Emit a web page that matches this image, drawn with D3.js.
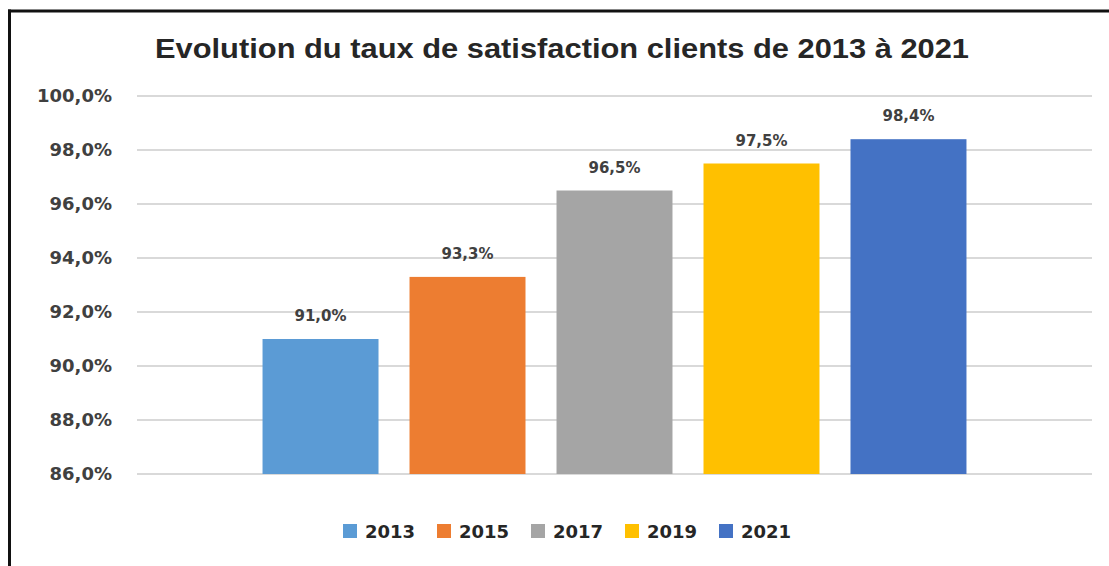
<!DOCTYPE html>
<html>
<head>
<meta charset="utf-8">
<script src="https://cdn.jsdelivr.net/npm/d3@7"></script>
<style>
  html, body { margin: 0; padding: 0; background: #fff; }
  svg { display: block; }
</style>
</head>
<body>
<div class="chart"><svg></svg></div>
<script>
"use strict";

// data
const years = ['2013', '2015', '2017', '2019', '2021'];
const rates = [91.0, 93.3, 96.5, 97.5, 98.4];
const colors = ['#5B9BD5', '#ED7D31', '#A5A5A5', '#FFC000', '#4472C4'];
const yTicks = [86, 88, 90, 92, 94, 96, 98, 100];
const title = 'Evolution du taux de satisfaction clients de 2013 à 2021';

const WIDTH = 1109;
const HEIGHT = 566;
const plot = {left: 137, right: 1092, top: 96, bottom: 474};

const fmt = v => d3.format('.1f')(v).replace('.', ',') + '%';

const svg = d3.select('.chart').select('svg')
    .attr('width', WIDTH)
    .attr('height', HEIGHT);

// frame (top + left edge of the screenshot)
svg.append('line')
    .attr('x1', 8).attr('y1', 11).attr('x2', WIDTH).attr('y2', 11)
    .attr('stroke', '#111').attr('stroke-width', 3);
svg.append('line')
    .attr('x1', 9.5).attr('y1', 9.5).attr('x2', 9.5).attr('y2', HEIGHT)
    .attr('stroke', '#111').attr('stroke-width', 3);

const x = d3.scaleBand()
    .domain(years)
    .range([plot.left, plot.right])
    .paddingInner(0.211)
    .paddingOuter(0.854);

const y = d3.scaleLinear()
    .domain([86, 100])
    .range([plot.bottom, plot.top]);

// gridlines
svg.append('g')
    .selectAll('line')
    .data(yTicks)
    .join('line')
    .attr('x1', plot.left)
    .attr('x2', plot.right)
    .attr('y1', d => y(d))
    .attr('y2', d => y(d))
    .attr('stroke', '#d9d9d9')
    .attr('stroke-width', 2);

// y axis labels
const yAxis = svg.append('g')
    .attr('transform', `translate(${plot.left},0)`)
    .call(d3.axisLeft(y).tickValues(yTicks).tickFormat(fmt).tickSize(0).tickPadding(25));
yAxis.select('.domain').remove();
yAxis.selectAll('text')
    .attr('font-family', 'DejaVu Sans, Verdana, sans-serif')
    .attr('font-weight', 'bold')
    .attr('font-size', 18)
    .attr('fill', '#404040');

// bars
svg.append('g')
    .selectAll('rect')
    .data(years)
    .join('rect')
    .attr('x', d => x(d))
    .attr('width', x.bandwidth())
    .attr('y', (d, i) => y(rates[i]))
    .attr('height', (d, i) => y(86) - y(rates[i]))
    .attr('fill', (d, i) => colors[i]);

// value labels
svg.append('g')
    .selectAll('text')
    .data(years)
    .join('text')
    .attr('x', d => x(d) + x.bandwidth() / 2)
    .attr('y', (d, i) => y(rates[i]) - 18)
    .attr('text-anchor', 'middle')
    .attr('font-family', 'DejaVu Sans, Verdana, sans-serif')
    .attr('font-weight', 'bold')
    .attr('font-size', 15)
    .attr('fill', '#404040')
    .text((d, i) => fmt(rates[i]));

// title
svg.append('text')
    .attr('x', 562)
    .attr('y', 58)
    .attr('text-anchor', 'middle')
    .attr('font-family', 'Liberation Sans, Arial, sans-serif')
    .attr('font-weight', 'bold')
    .attr('font-size', 27)
    .attr('fill', '#262626')
    .attr('textLength', 814)
    .attr('lengthAdjust', 'spacingAndGlyphs')
    .text(title);

// legend
const legendStep = 94;
const legendX = 343;
const legend = svg.append('g')
    .selectAll('g')
    .data(years)
    .join('g')
    .attr('transform', (d, i) => `translate(${legendX + i * legendStep},524)`);

legend.append('rect')
    .attr('width', 14)
    .attr('height', 14)
    .attr('fill', (d, i) => colors[i]);

legend.append('text')
    .attr('x', 22)
    .attr('y', 14)
    .attr('font-family', 'DejaVu Sans, Verdana, sans-serif')
    .attr('font-weight', 'bold')
    .attr('font-size', 18)
    .attr('fill', '#262626')
    .text(d => d);
</script>
</body>
</html>
